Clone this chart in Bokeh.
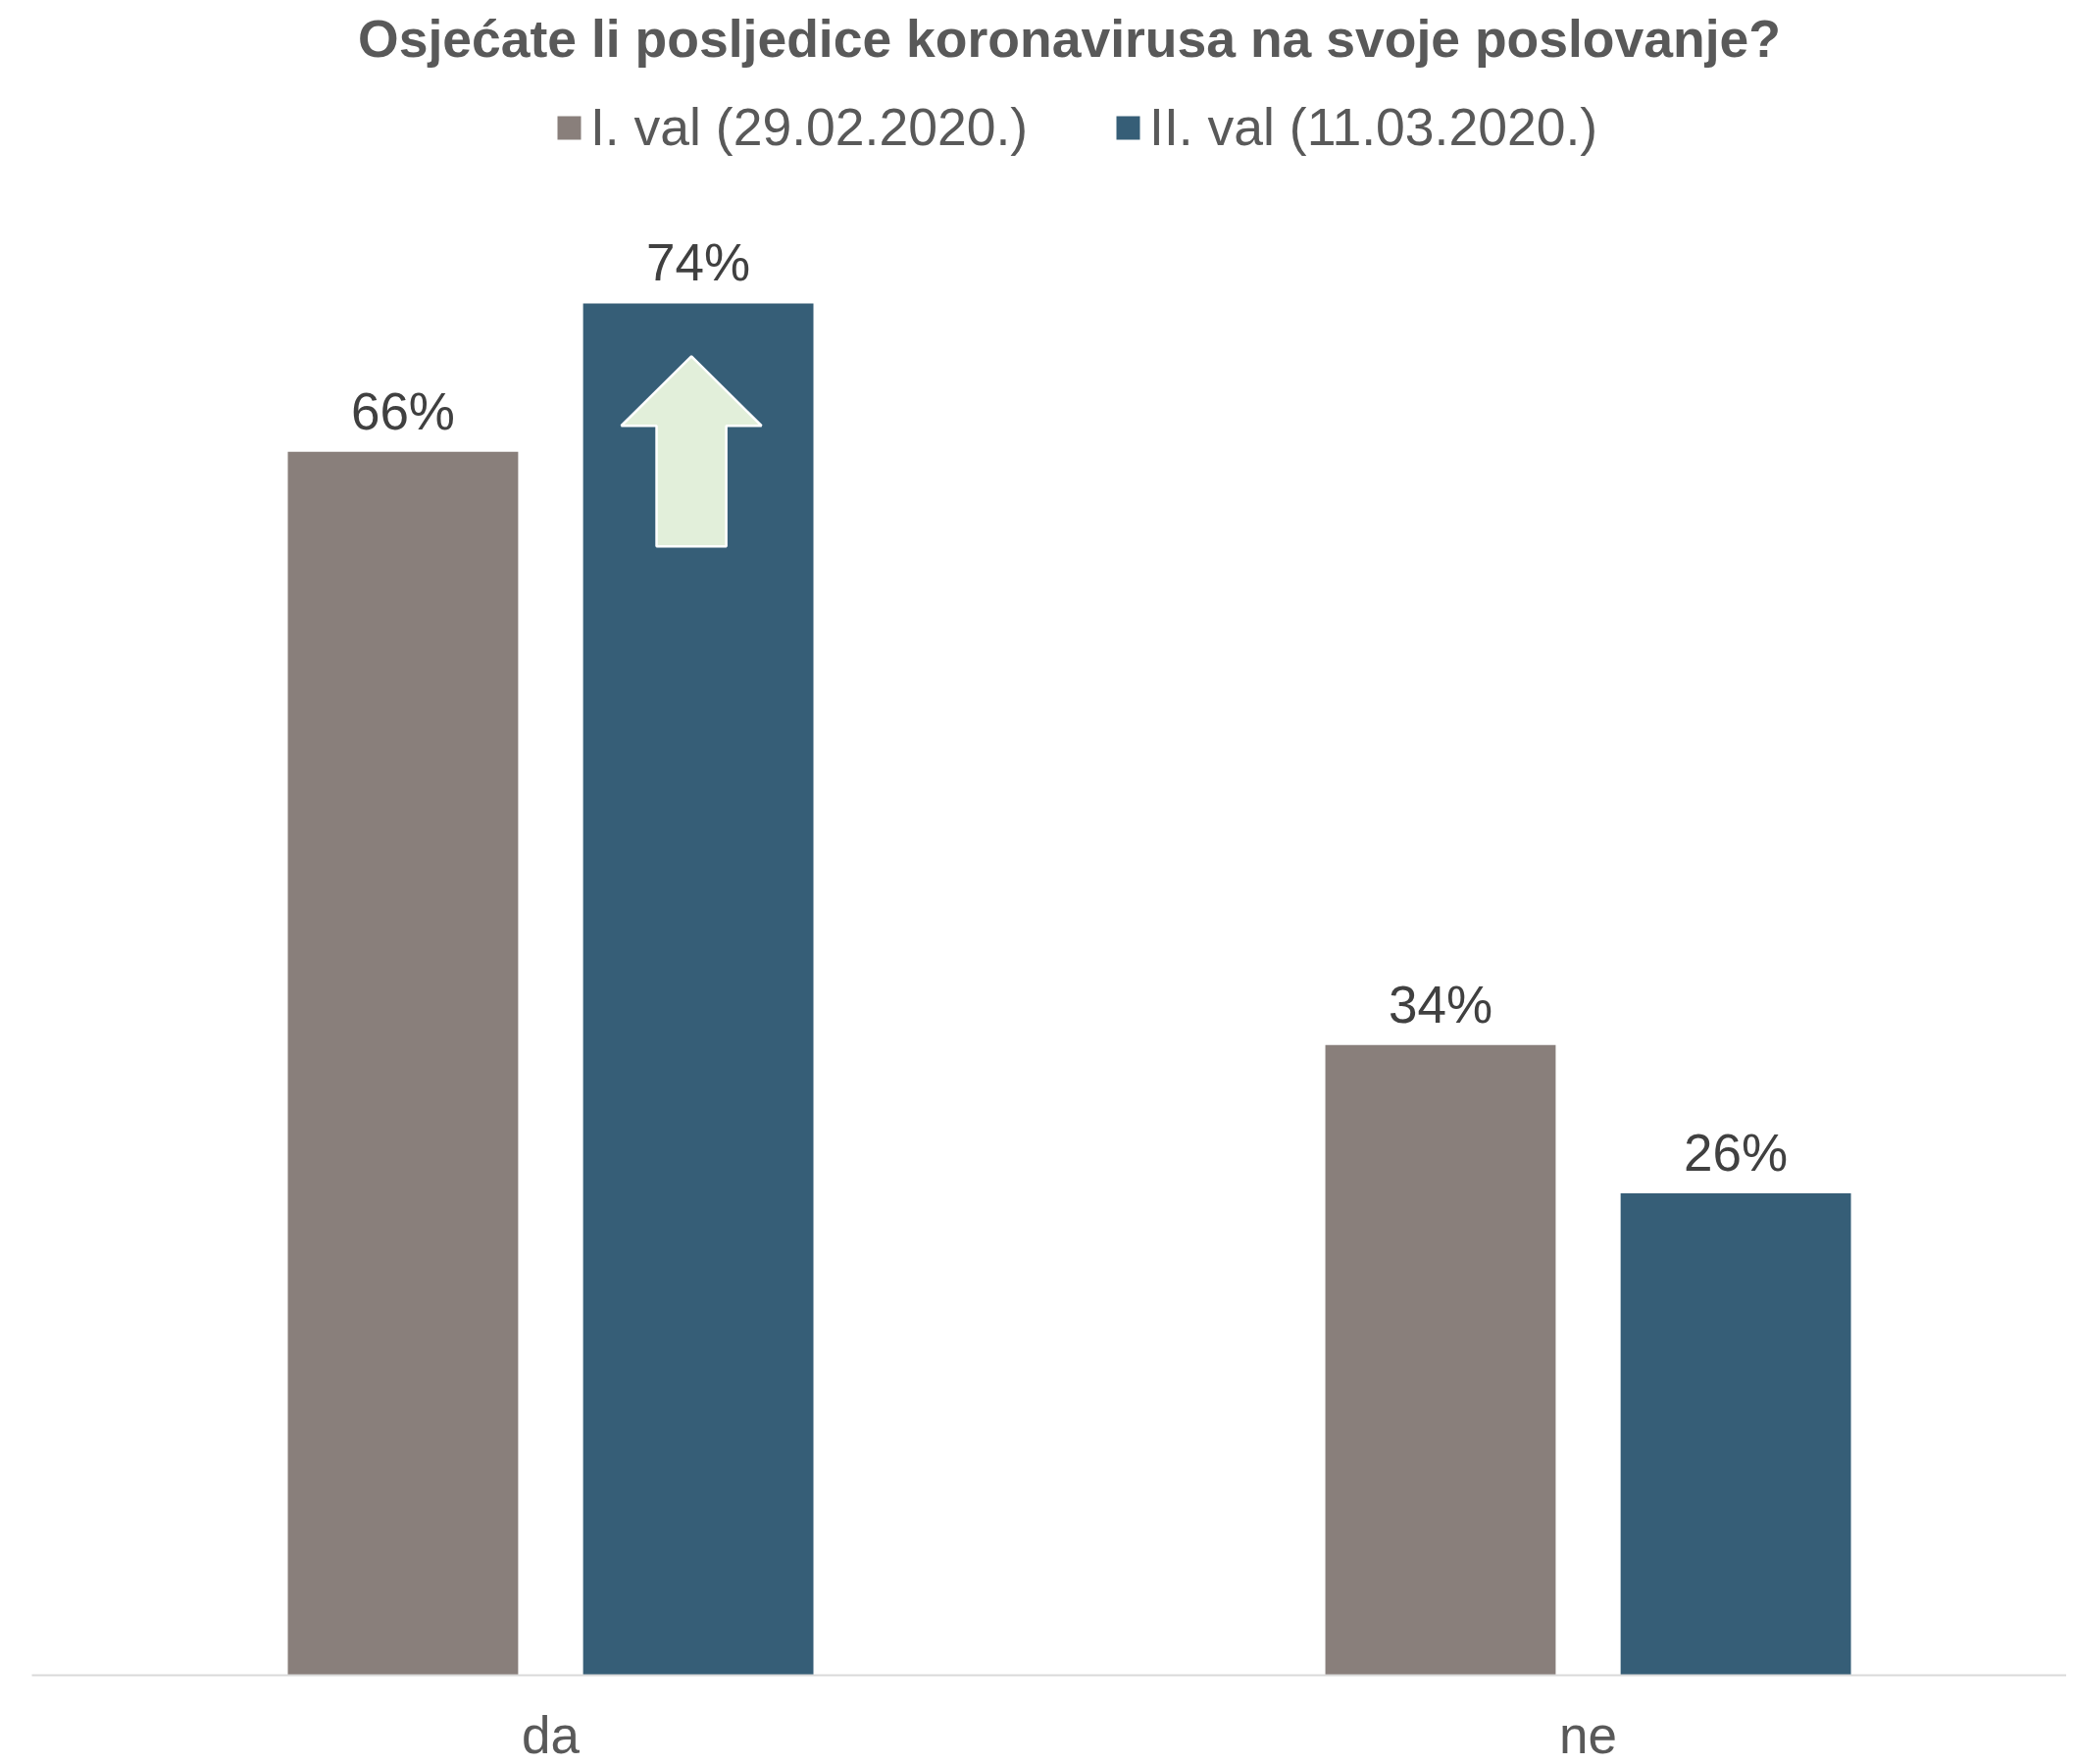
from bokeh.plotting import figure
from bokeh.models import ColumnDataSource, FixedTicker, Legend, LegendItem, Label, LabelSet
from bokeh.transform import dodge
from bokeh.core.properties import value
from bokeh.embed import file_html
from bokeh.resources import INLINE

title = "Osjećate li posljedice koronavirusa na svoje poslovanje?"
categories = ["da", "ne"]
series_names = ["I. val (29.02.2020.)", "II. val (11.03.2020.)"]
wave1 = [66, 34]
wave2 = [74, 26]
colors = ["#897f7b", "#365e77"]

FONT = "Liberation Sans"
cat_x = list(range(len(categories)))

src = ColumnDataSource(dict(
    x=cat_x, w1=wave1, w2=wave2,
    l1=[f"{v}%" for v in wave1], l2=[f"{v}%" for v in wave2],
))

p = figure(frame_width=2075, frame_height=1700,
           x_range=(-0.5, 1.4612), y_range=(0, 89.92),
           output_backend="svg", toolbar_location=None,
           y_axis_location=None,
           min_border_left=32, min_border_right=0, min_border_top=8, min_border_bottom=0)
p.outline_line_color = None
p.xgrid.visible = False
p.ygrid.visible = False

bw = 0.222
off = 0.1423
r1 = p.vbar(x=dodge("x", -off), top="w1", width=bw, source=src,
            fill_color=colors[0], line_color=None)
r2 = p.vbar(x=dodge("x", off), top="w2", width=bw, source=src,
            fill_color=colors[1], line_color=None)

for col, lab, o in (("w1", "l1", -off), ("w2", "l2", off)):
    p.add_layout(LabelSet(x=dodge("x", o), y=col, text=lab, source=src,
                          text_align="center", text_baseline="alphabetic", y_offset=23,
                          text_font=value(FONT), text_font_size=value("53px"),
                          text_color="#404040"))

# up arrow inside the "da" wave-2 bar
top = wave2[0]
ax = cat_x[0] + off - 0.0066
hw, sw = 0.0676, 0.0336
axs = [ax, ax + hw, ax + sw, ax + sw, ax - sw, ax - sw, ax - hw]
ays = [top - 2.85, top - 6.6, top - 6.6, top - 13.1, top - 13.1, top - 6.6, top - 6.6]
p.patch(axs, ays, fill_color="#e2efda", line_color="white", line_width=2.5)

legend = Legend(items=[LegendItem(label=series_names[0], renderers=[r1]),
                       LegendItem(label=series_names[1], renderers=[r2])],
                orientation="horizontal", location=(533, 1548),
                glyph_width=30, glyph_height=30, label_standoff=7, spacing=87,
                padding=0, margin=0, border_line_color=None, background_fill_alpha=0,
                label_text_font=FONT, label_text_font_size="53.5px",
                label_text_color="#595959")
p.add_layout(legend)

p.add_layout(Label(x=0.5, y=88.3, text=title, text_align="center",
                   text_baseline="alphabetic", text_font=FONT,
                   text_font_style="bold", text_font_size="53.5px",
                   text_color="#595959"))

xa = p.xaxis[0]
xa.ticker = FixedTicker(ticks=cat_x)
xa.major_label_overrides = {i: c for i, c in enumerate(categories)}
xa.major_label_text_font = FONT
xa.major_label_text_font_size = "53px"
xa.major_label_text_color = "#595959"
xa.major_label_standoff = 25
xa.axis_line_color = "#d9d9d9"
xa.axis_line_width = 2
xa.major_tick_line_color = None
xa.minor_tick_line_color = None

open("out.html", "w").write(file_html(p, INLINE))
